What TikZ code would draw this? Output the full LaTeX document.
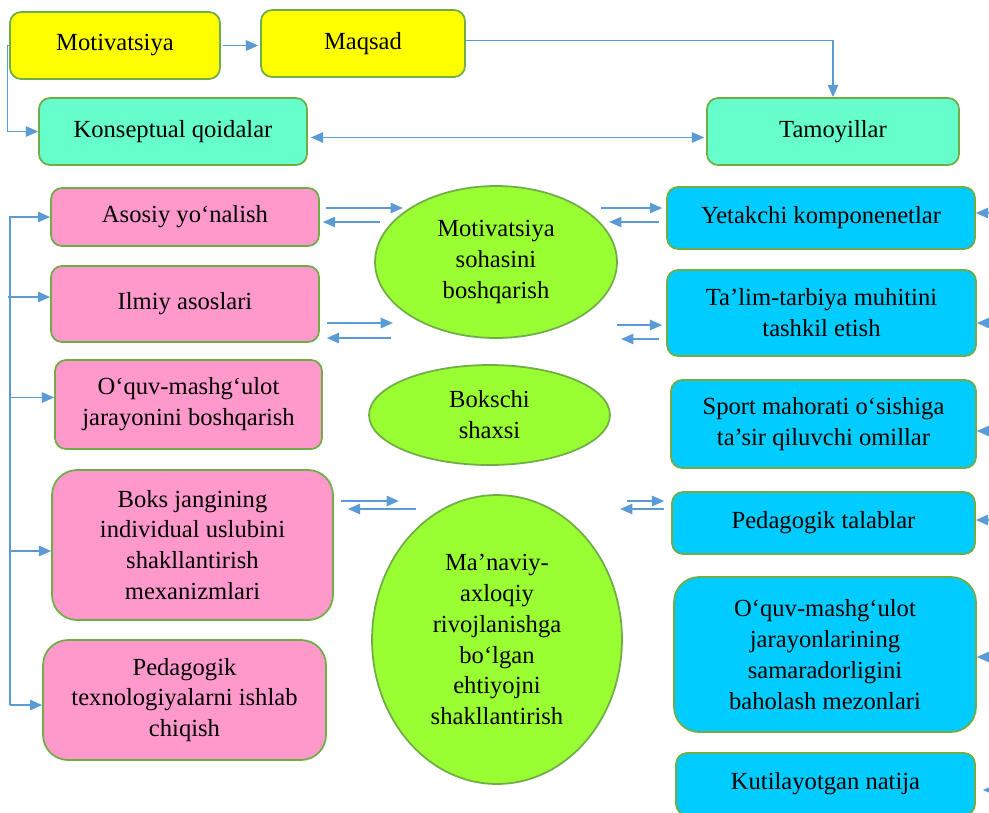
\documentclass[tikz,border=0pt]{standalone}
\usepackage{fontspec}
\setmainfont{Liberation Serif}
\usetikzlibrary{arrows.meta,shapes.geometric,calc}
\definecolor{edgegreen}{HTML}{70AD47}
\definecolor{arrowblue}{HTML}{5B9BD5}
\definecolor{goalyellow}{HTML}{FFFF00}
\definecolor{ruleaqua}{HTML}{66FFCC}
\definecolor{leftpink}{HTML}{FF99CC}
\definecolor{rightcyan}{HTML}{00CCFF}
\definecolor{ovalgreen}{HTML}{99FF33}

\begin{document}
\begin{tikzpicture}[x=0.02cm,y=-0.02cm,
  box/.style={draw=edgegreen,line width=1pt,rounded corners=0.22cm,align=center,
    font=\fontsize{14}{17.6}\selectfont,inner sep=2pt},
  tallbox/.style={box,rounded corners=0.5cm},
  oval/.style={ellipse,draw=edgegreen,line width=1pt,fill=ovalgreen,align=center,
    font=\fontsize{14}{17.6}\selectfont,inner sep=0pt},
  arr/.style={draw=arrowblue,line width=0.7pt,-{Triangle[length=7pt,width=6pt]}},
  biarr/.style={arr,{Triangle[length=7pt,width=6pt]}-{Triangle[length=7pt,width=6pt]}}]
\useasboundingbox (0,0) rectangle (989,812);
% Top row
\node[box,fill=goalyellow,minimum width=4.2cm,minimum height=1.34cm] (mot) at (115,45.5) {Motivatsiya};
\node[box,fill=goalyellow,minimum width=4.08cm,minimum height=1.34cm] (maq) at (363,43.5) {Maqsad};
\node[box,fill=ruleaqua,minimum width=5.36cm,minimum height=1.34cm] (kon) at (173,131.5) {Konseptual qoidalar};
\node[box,fill=ruleaqua,minimum width=5.04cm,minimum height=1.34cm] (tam) at (833,131.5) {Tamoyillar};
% Left column
\node[box,fill=leftpink,minimum width=5.36cm,minimum height=1.16cm] (aso) at (185,217) {Asosiy yo‘nalish};
\node[box,fill=leftpink,minimum width=5.36cm,minimum height=1.52cm] (ilm) at (185,304) {Ilmiy asoslari};
\node[box,fill=leftpink,minimum width=5.34cm,minimum height=1.78cm] (oqv) at (188.5,404.5) {O‘quv-mashg‘ulot\\jarayonini boshqarish};
\node[tallbox,fill=leftpink,minimum width=5.62cm,minimum height=3.0cm] (boks) at (192.5,545) {Boks jangining\\individual uslubini\\shakllantirish\\mexanizmlari};
\node[tallbox,fill=leftpink,minimum width=5.66cm,minimum height=2.4cm] (ped) at (184.5,700) {Pedagogik\\texnologiyalarni ishlab\\chiqish};
% Middle
\node[oval,minimum width=4.84cm,minimum height=3.04cm] (soha) at (496,262) {Motivatsiya\\sohasini\\boshqarish};
\node[oval,minimum width=4.82cm,minimum height=2.0cm] (shaxs) at (489.5,415) {Bokschi\\shaxsi};
\node[oval,minimum width=5.0cm,minimum height=5.78cm] (mana) at (497,639.5) {Ma’naviy-\\axloqiy\\rivojlanishga\\bo‘lgan\\ehtiyojni\\shakllantirish};
% Right column
\node[box,fill=rightcyan,minimum width=6.16cm,minimum height=1.24cm] (yet) at (821,218) {Yetakchi komponenetlar};
\node[box,fill=rightcyan,minimum width=6.18cm,minimum height=1.72cm] (tal) at (821.5,313) {Ta’lim-tarbiya muhitini\\tashkil etish};
\node[box,fill=rightcyan,minimum width=6.1cm,minimum height=1.76cm] (spo) at (823.5,424) {Sport mahorati o‘sishiga\\ta’sir qiluvchi omillar};
\node[box,fill=rightcyan,minimum width=6.06cm,minimum height=1.24cm] (pedt) at (823.5,523) {Pedagogik talablar};
\node[tallbox,fill=rightcyan,minimum width=6.04cm,minimum height=3.1cm] (baho) at (825,654.5) {O‘quv-mashg‘ulot\\jarayonlarining\\samaradorligini\\baholash mezonlari};
\node[box,fill=rightcyan,minimum width=5.98cm,minimum height=1.24cm] (kut) at (825.5,784) {Kutilayotgan natija};
% Top arrows
\draw[arr] ($(mot.east)+(2,0)$) -- ($(maq.west)+(-2,2)$);
\draw[arr] ($(maq.east)+(0,-3)$) -| (tam.north);
\draw[arr] (mot.west) -- ++(-2,0) |- (kon.west);
\draw[biarr] ($(kon.east)+(3,6)$) -- ($(tam.west)+(-2,6)$);
% Left spine
\coordinate (spb) at (10,705);
\draw[arr] (spb) |- (aso.west);
\draw[arr] ($(spb |- ilm.west)+(-2,-7)$) -- ($(ilm.west)+(0,-7)$);
\draw[arr] ($(spb |- oqv.west)+(0,-7)$) -- ($(oqv.west)+(0,-7)$);
\draw[arr] ($(spb |- boks.west)+(0,6)$) -- ($(boks.west)+(0,6)$);
\draw[arr] (spb) -- (ped.west |- spb);
% Pairs, left
\draw[arr] ($(aso.east)+(6,-9)$) -- ++(77,0);
\draw[arr] ($(aso.east)+(60,5)$) -- ++(-57,0);
\draw[arr] ($(ilm.east)+(7,19)$) -- ++(66,0);
\draw[arr] ($(ilm.east)+(71,34)$) -- ++(-64,0);
\draw[arr] ($(boks.east)+(7,-44)$) -- ++(58,0);
\draw[arr] ($(boks.east)+(82,-36)$) -- ++(-68,0);
% Pairs, right
\draw[arr] ($(yet.west)+(-65,-10)$) -- ++(61,0);
\draw[arr] ($(yet.west)+(-7,4)$) -- ++(-50,0);
\draw[arr] ($(tal.west)+(-49,12)$) -- ++(45,0);
\draw[arr] ($(tal.west)+(-7,26)$) -- ++(-38,0);
\draw[arr] ($(pedt.west)+(-44,-22)$) -- ++(37,0);
\draw[arr] ($(pedt.west)+(-7,-14)$) -- ++(-44,0);
% Right edge
\draw[arr] (989,213) -- (yet.east |- 989,213);
\draw[arr] (989,323) -- (tal.east |- 989,323);
\draw[arr] (989,431) -- (spo.east |- 989,431);
\draw[arr] (989,520) -- (pedt.east |- 989,520);
\draw[arr] (989,657) -- (baho.east |- 989,657);
\draw[arr] (995,790) -- ($(kut.east |- 989,790)+(7,0)$);
\end{tikzpicture}
\end{document}
